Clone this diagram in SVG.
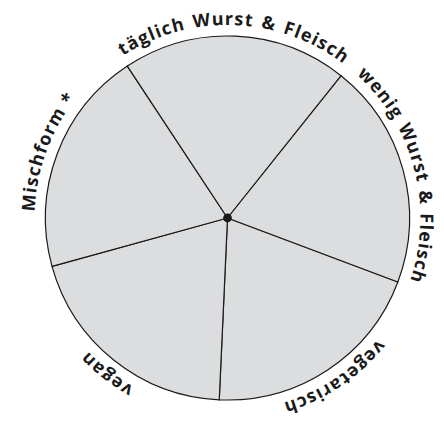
<svg xmlns="http://www.w3.org/2000/svg" xmlns:xlink="http://www.w3.org/1999/xlink" width="444" height="421" viewBox="0 0 444 421">
  <style>
    .seg { fill: #dcdddf; stroke: #1a1a1a; stroke-width: 1.2; stroke-linejoin: round; }
    .lbl { font-family: "Open Sans", "Liberation Sans", sans-serif; font-weight: 700; font-size: 18px; letter-spacing: 1.1px; word-spacing: 2px; fill: #1a1a1a; }
    .tight { word-spacing: 0; }
  </style>
  <defs>
    <path id="ring" d="M 227.5 411 A 193 193 0 0 1 227.5 25 A 193 193 0 0 1 227.5 411"/>
  </defs>
  <rect width="444" height="421" fill="#ffffff"/>
  <g id="vegetarisch">
    <path class="seg" d="M 227.5 218 L 397.86 282.03 A 182 182 0 0 1 219.24 399.81 Z"/>
    <text class="lbl" text-anchor="middle"><textPath xlink:href="#ring" href="#ring" startOffset="90.6%">vegetarisch</textPath></text>
  </g>
  <g id="vegan">
    <path class="seg" d="M 227.5 218 L 219.24 399.81 A 182 182 0 0 1 52.03 266.33 Z"/>
    <text class="lbl" text-anchor="middle"><textPath xlink:href="#ring" href="#ring" startOffset="10.5%">vegan</textPath></text>
  </g>
  <g id="mischform">
    <path class="seg" d="M 227.5 218 L 52.03 266.33 A 182 182 0 0 1 127.31 66.06 Z"/>
    <text class="lbl tight" text-anchor="middle"><textPath xlink:href="#ring" href="#ring" startOffset="30.6%">Mischform *</textPath></text>
  </g>
  <g id="taeglich">
    <path class="seg" d="M 227.5 218 L 127.31 66.06 A 182 182 0 0 1 341.05 75.76 Z"/>
    <text class="lbl" text-anchor="middle"><textPath xlink:href="#ring" href="#ring" startOffset="50.6%">täglich Wurst &amp; Fleisch</textPath></text>
  </g>
  <g id="wenig">
    <path class="seg" d="M 227.5 218 L 341.05 75.76 A 182 182 0 0 1 397.86 282.03 Z"/>
    <text class="lbl" text-anchor="middle"><textPath xlink:href="#ring" href="#ring" startOffset="71%">wenig Wurst &amp; Fleisch</textPath></text>
  </g>
  <g id="center">
    <circle cx="227.5" cy="218" r="4.4" fill="#1a1a1a"/>
  </g>
</svg>
